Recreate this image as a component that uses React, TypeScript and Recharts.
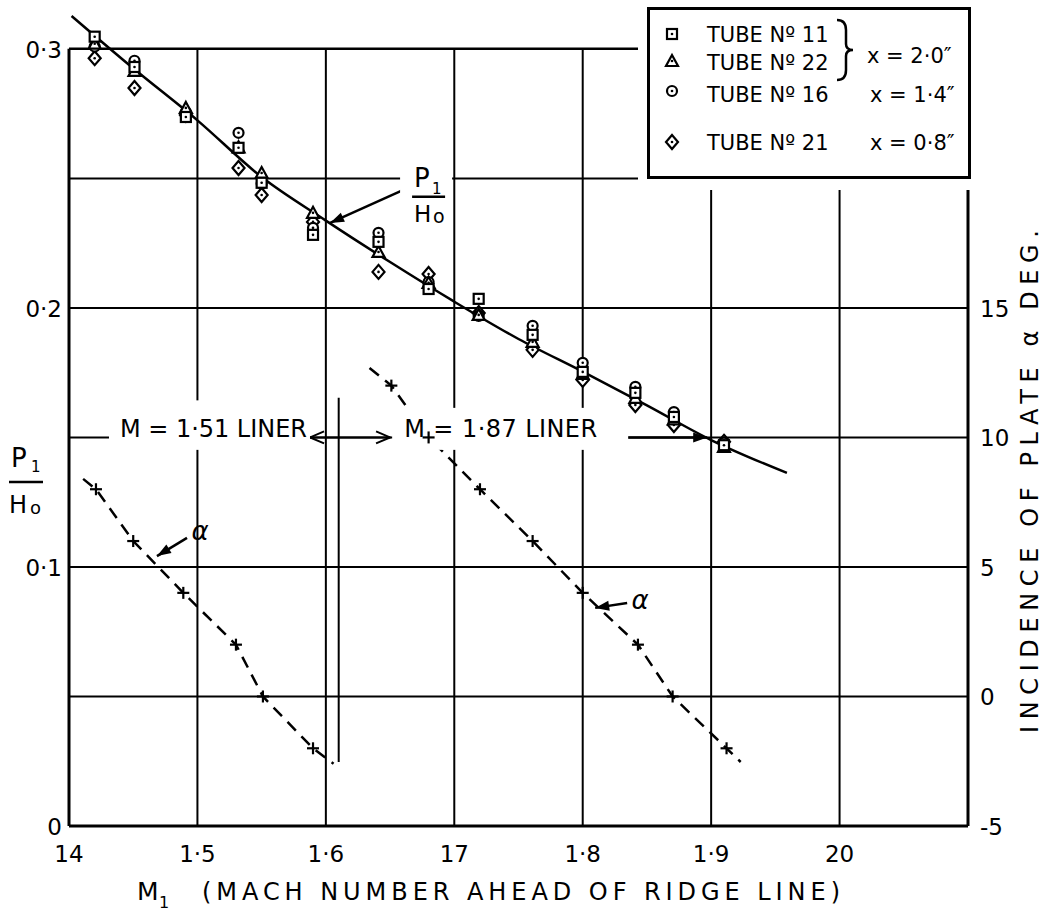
import React from 'react';
import { ComposedChart, XAxis, YAxis, Line, Scatter, ReferenceLine, ReferenceDot, Legend } from 'recharts';

// Mach number of each group of readings
const clusterMach = [1.42, 1.451, 1.491, 1.532, 1.55, 1.59, 1.641, 1.68, 1.719, 1.761, 1.8, 1.841, 1.871, 1.91];
// P1/H0 per tube
const tube11 = [0.3047, 0.293, 0.2737, 0.2618, 0.2483, 0.2282, 0.2255, 0.2073, 0.2035, 0.1896, 0.1753, 0.1672, 0.1579, 0.147];
const tube22 = [0.302, 0.2915, 0.2772, 0.262, 0.2521, 0.2367, 0.2216, 0.2097, 0.1973, 0.1869, 0.1745, 0.1653, 0.157, 0.1463];
const tube16 = [0.3009, 0.2954, 0.2755, 0.2676, 0.248, 0.2309, 0.229, 0.21, 0.1969, 0.1931, 0.1788, 0.1695, 0.1598, 0.148];
const tube21 = [0.2964, 0.2849, 0.2745, 0.254, 0.2436, 0.2332, 0.2139, 0.2131, 0.198, 0.1838, 0.1722, 0.1625, 0.1548, 0.1483];

// faired P1/H0 curve
const curveMach = [1.402, 1.45, 1.5, 1.55, 1.6, 1.65, 1.7, 1.75, 1.8, 1.85, 1.9, 1.959];
const curveRatio = [0.3127, 0.2925, 0.2724, 0.2505, 0.2337, 0.2177, 0.2024, 0.188, 0.1754, 0.1624, 0.149, 0.1363];

// incidence of plate (deg), two liners
const liner151Mach = [1.421, 1.45, 1.489, 1.53, 1.551, 1.59];
const liner151Alpha = [8, 6, 4, 2, 0, -2];
const liner151EndMach = [1.411, 1.606];
const liner151EndAlpha = [8.4, -2.6];
const liner187Mach = [1.651, 1.68, 1.72, 1.761, 1.8, 1.843, 1.87, 1.912];
const liner187Alpha = [12, 10, 8, 6, 4, 2, 0, -2];
const liner187EndMach = [1.634, 1.923];
const liner187EndAlpha = [12.68, -2.53];

const xTicks = [1.4, 1.5, 1.6, 1.7, 1.8, 1.9, 2.0];
const xTickLabels = ['14', '1·5', '1·6', '17', '1·8', '1·9', '20'];
const pTicks = [0, 0.1, 0.2, 0.3];
const pTickLabels = ['0', '0·1', '0·2', '0·3'];
const aTicks = [-5, 0, 5, 10, 15];
const aTickLabels = ['-5', '0', '5', '10', '15'];
const xGrid = [1.5, 1.6, 1.7, 1.8, 1.9, 2.0];
const pGrid = [0.05, 0.1, 0.15, 0.2, 0.25];

const tubes = [
  { label: 'TUBE Nº 11', kind: 'square', values: tube11 },
  { label: 'TUBE Nº 22', kind: 'triangle', values: tube22 },
  { label: 'TUBE Nº 16', kind: 'circle', values: tube16 },
  { label: 'TUBE Nº 21', kind: 'diamond', values: tube21 },
];

const FONT = '"DejaVu Sans", sans-serif';

const toPoints = (xs: number[], ys: number[], key: string) => xs.map((m, i) => ({ m, [key]: ys[i] }));

const curveData = toPoints(curveMach, curveRatio, 'p');
const cross151 = toPoints(liner151Mach, liner151Alpha, 'a');
const cross187 = toPoints(liner187Mach, liner187Alpha, 'a');
const dash151 = [{ m: liner151EndMach[0], a: liner151EndAlpha[0] }, ...cross151, { m: liner151EndMach[1], a: liner151EndAlpha[1] }];
const dash187 = [{ m: liner187EndMach[0], a: liner187EndAlpha[0] }, ...cross187, { m: liner187EndMach[1], a: liner187EndAlpha[1] }];

function Marker({ kind, cx, cy }: { kind: string; cx: number; cy: number }) {
  const st = { fill: '#fff', stroke: '#000', strokeWidth: 2.2 };
  let body = null;
  if (kind === 'square') body = <rect x={cx - 5} y={cy - 5} width={10} height={10} {...st} />;
  if (kind === 'triangle') body = <polygon points={`${cx},${cy - 6} ${cx + 6},${cy + 5} ${cx - 6},${cy + 5}`} {...st} />;
  if (kind === 'circle') body = <circle cx={cx} cy={cy} r={5} {...st} />;
  if (kind === 'diamond') body = <polygon points={`${cx},${cy - 7} ${cx + 6},${cy} ${cx},${cy + 7} ${cx - 6},${cy}`} {...st} />;
  return (
    <g>
      {body}
      <circle cx={cx} cy={cy} r={1.3} fill="#000" />
    </g>
  );
}

const Cross = (p: any) => (
  <g stroke="#000" strokeWidth={2.2}>
    <line x1={p.cx - 6} y1={p.cy} x2={p.cx + 6} y2={p.cy} />
    <line x1={p.cx} y1={p.cy - 6} x2={p.cx} y2={p.cy + 6} />
  </g>
);

function head(x1: number, y1: number, x2: number, y2: number, len = 14, half = 5) {
  const a = Math.atan2(y2 - y1, x2 - x1);
  const bx = x2 - len * Math.cos(a);
  const by = y2 - len * Math.sin(a);
  const nx = -Math.sin(a) * half;
  const ny = Math.cos(a) * half;
  return `${x2},${y2} ${bx + nx},${by + ny} ${bx - nx},${by - ny}`;
}

const Arrow = (p: any) => (
  <g>
    <line x1={p.x1} y1={p.y1} x2={p.x2} y2={p.y2} stroke="#000" strokeWidth={2.5} />
    <polygon points={head(p.x1, p.y1, p.x2, p.y2)} fill="#000" />
  </g>
);

const DoubleArrow = (p: any) => (
  <g fill="none" stroke="#000" strokeWidth={2}>
    <line x1={p.x1} y1={p.y1} x2={p.x2} y2={p.y2} />
    <polyline points={`${p.x1 + 14},${p.y1 - 6} ${p.x1},${p.y1} ${p.x1 + 14},${p.y1 + 6}`} />
    <polyline points={`${p.x2 - 14},${p.y2 - 6} ${p.x2},${p.y2} ${p.x2 - 14},${p.y2 + 6}`} />
  </g>
);

const boxLabel = (text: string, left: number, right: number, top: number, bottom: number, len: number) => (p: any) => (
  <g>
    <rect x={p.cx + left} y={p.cy + top} width={right - left} height={bottom - top} fill="#fff" />
    <text x={p.cx} y={p.cy + 8.5} textAnchor="middle" fontSize={24} fontFamily={FONT} fill="#000" textLength={len} lengthAdjust="spacing">
      {text}
    </text>
  </g>
);

const RatioLabel = (p: any) => (
  <g fontFamily={FONT} fill="#000">
    <rect x={p.cx - 28} y={p.cy - 39} width={52} height={72} fill="#fff" />
    <text x={p.cx - 14} y={p.cy - 10} fontSize={26}>P</text>
    <text x={p.cx + 4} y={p.cy - 3} fontSize={15}>1</text>
    <line x1={p.cx - 16} y1={p.cy} x2={p.cx + 17} y2={p.cy} stroke="#000" strokeWidth={2.5} />
    <text x={p.cx - 14} y={p.cy + 25} fontSize={23}>H</text>
    <text x={p.cx + 5} y={p.cy + 26} fontSize={19}>o</text>
  </g>
);

const AlphaText = (p: any) => (
  <text x={p.cx} y={p.cy + 7} textAnchor="middle" fontSize={26} fontFamily={FONT} fontStyle="italic" fill="#000">
    α
  </text>
);

const XTick = (p: any) => {
  const i = xTicks.findIndex((t) => Math.abs(t - p.payload.value) < 1e-9);
  return (
    <text x={p.x} y={p.y + 36} textAnchor="middle" fontSize={23} fontFamily={FONT} fill="#000">
      {xTickLabels[i]}
    </text>
  );
};

const PTick = (p: any) => {
  const i = pTicks.findIndex((t) => Math.abs(t - p.payload.value) < 1e-9);
  return (
    <text x={p.x - 7} y={p.y + 9} textAnchor="end" fontSize={23} fontFamily={FONT} fill="#000">
      {pTickLabels[i]}
    </text>
  );
};

const ATick = (p: any) => {
  const i = aTicks.findIndex((t) => Math.abs(t - p.payload.value) < 1e-9);
  return (
    <text x={p.x + 12} y={p.y + 9} textAnchor="start" fontSize={23} fontFamily={FONT} fill="#000">
      {aTickLabels[i]}
    </text>
  );
};

const XTitle = () => (
  <g fontFamily={FONT} fill="#000">
    <text x={137} y={900} fontSize={25}>M</text>
    <text x={159} y={908} fontSize={16}>1</text>
    <text x={202} y={900} fontSize={24} textLength={638} lengthAdjust="spacing">
      (MACH NUMBER AHEAD OF RIDGE LINE)
    </text>
  </g>
);

const PTitle = () => (
  <g fontFamily={FONT} fill="#000">
    <text x={11} y={467} fontSize={26}>P</text>
    <text x={31} y={472} fontSize={15}>1</text>
    <line x1={9} y1={482} x2={43} y2={482} stroke="#000" strokeWidth={2.5} />
    <text x={9} y={513} fontSize={24}>H</text>
    <text x={30} y={514} fontSize={18}>o</text>
  </g>
);

const ATitle = () => (
  <text
    transform="translate(1038, 481.5) rotate(-90)"
    x={0}
    y={0}
    textAnchor="middle"
    fontSize={24}
    fontFamily={FONT}
    fill="#000"
    textLength={503}
    lengthAdjust="spacing"
  >
    INCIDENCE OF PLATE α DEG.
  </text>
);

const legendRows = [42, 70, 102, 150];
const markerRows = [34, 61, 91, 142];

const TubeLegend = () => (
  <svg width={342} height={190} style={{ display: 'block' }}>
    <rect x={0} y={0} width={342} height={190} fill="#fff" />
    <rect x={10.5} y={8.5} width={321} height={169} fill="#fff" stroke="#000" strokeWidth={3} />
    {tubes.map((t, i) => (
      <g key={t.label}>
        <Marker kind={t.kind} cx={34} cy={markerRows[i]} />
        <text x={69} y={legendRows[i]} fontSize={21} fontFamily={FONT} fill="#000">
          {t.label}
        </text>
      </g>
    ))}
    <path d="M199 20 Q208 20 208 30 L208 44 Q208 50 215 50 Q208 50 208 56 L208 70 Q208 80 199 80" fill="none" stroke="#000" strokeWidth={2.5} />
    <g fontSize={21} fontFamily={FONT} fill="#000">
      <text x={229} y={63}>x = 2·0″</text>
      <text x={232} y={102}>x = 1·4″</text>
      <text x={232} y={150}>x = 0·8″</text>
    </g>
  </svg>
);

export default function App() {
  return (
    <div style={{ position: 'absolute', left: 0, top: 0, width: 1045, height: 912, background: '#fff', fontFamily: FONT }}>
      <ComposedChart width={1045} height={912} margin={{ top: 10, right: 0, bottom: 0, left: 0 }}>
        <XAxis
          type="number"
          dataKey="m"
          domain={[1.4, 2.1]}
          ticks={xTicks}
          interval={0}
          allowDataOverflow
          axisLine={false}
          tickLine={false}
          tickSize={0}
          tickMargin={0}
          height={86}
          tick={XTick}
          label={{ content: XTitle }}
        />
        <YAxis
          yAxisId="p"
          type="number"
          domain={[0, 0.315]}
          ticks={pTicks}
          interval={0}
          allowDataOverflow
          axisLine={false}
          tickLine={false}
          tickSize={0}
          tickMargin={0}
          width={69}
          tick={PTick}
          label={{ content: PTitle }}
        />
        <YAxis
          yAxisId="a"
          orientation="right"
          type="number"
          domain={[-5, 26.5]}
          ticks={aTicks}
          interval={0}
          allowDataOverflow
          axisLine={false}
          tickLine={false}
          tickSize={0}
          tickMargin={0}
          width={77}
          tick={ATick}
          label={{ content: ATitle }}
        />

        {xGrid.map((x) => (
          <ReferenceLine key={'gx' + x} yAxisId="p" segment={[{ x, y: 0 }, { x, y: 0.3 }]} stroke="#000" strokeWidth={2} />
        ))}
        {pGrid.map((y) => (
          <ReferenceLine key={'gy' + y} yAxisId="p" segment={[{ x: 1.4, y }, { x: 2.1, y }]} stroke="#000" strokeWidth={2} />
        ))}
        <ReferenceLine yAxisId="p" segment={[{ x: 1.4, y: 0 }, { x: 1.4, y: 0.3 }]} stroke="#000" strokeWidth={3} />
        <ReferenceLine yAxisId="p" segment={[{ x: 2.1, y: 0 }, { x: 2.1, y: 0.3 }]} stroke="#000" strokeWidth={3} />
        <ReferenceLine yAxisId="p" segment={[{ x: 1.4, y: 0 }, { x: 2.1, y: 0 }]} stroke="#000" strokeWidth={3} />
        <ReferenceLine yAxisId="p" segment={[{ x: 1.4, y: 0.3 }, { x: 2.1, y: 0.3 }]} stroke="#000" strokeWidth={2.5} />

        <ReferenceDot yAxisId="p" x={1.5125} y={0.1535} shape={boxLabel('M = 1·51 LINER', -104.5, 96.5, -28, 21.5, 187)} />
        <ReferenceDot yAxisId="p" x={1.7361} y={0.1535} shape={boxLabel('M = 1·87 LINER', -108.5, 127.5, -20.5, 21.5, 193)} />
        <ReferenceDot yAxisId="p" x={1.6796} y={0.2429} shape={RatioLabel} />

        <ReferenceLine yAxisId="p" segment={[{ x: 1.5877, y: 0.15 }, { x: 1.65, y: 0.15 }]} shape={DoubleArrow} />
        <ReferenceLine yAxisId="p" segment={[{ x: 1.8354, y: 0.15 }, { x: 1.8969, y: 0.15 }]} shape={Arrow} />
        <ReferenceLine yAxisId="p" segment={[{ x: 1.61, y: 0.0247 }, { x: 1.61, y: 0.1653 }]} stroke="#000" strokeWidth={2} />
        <ReferenceLine yAxisId="p" segment={[{ x: 1.6656, y: 0.2467 }, { x: 1.6033, y: 0.2328 }]} shape={Arrow} />

        <ReferenceLine yAxisId="a" segment={[{ x: 1.4919, y: 6.12 }, { x: 1.4685, y: 5.42 }]} shape={Arrow} />
        <ReferenceDot yAxisId="a" x={1.502} y={6.31} shape={AlphaText} />
        <ReferenceLine yAxisId="a" segment={[{ x: 1.8346, y: 3.61 }, { x: 1.8097, y: 3.42 }]} shape={Arrow} />
        <ReferenceDot yAxisId="a" x={1.8447} y={3.65} shape={AlphaText} />

        <Line yAxisId="p" data={curveData} dataKey="p" type="monotone" stroke="#000" strokeWidth={2.5} dot={false} isAnimationActive={false} />
        <Line yAxisId="a" data={dash151} dataKey="a" type="linear" stroke="#000" strokeWidth={2.5} strokeDasharray="12 8" dot={false} isAnimationActive={false} />
        <Line yAxisId="a" data={dash187} dataKey="a" type="linear" stroke="#000" strokeWidth={2.5} strokeDasharray="12 8" dot={false} isAnimationActive={false} />
        <Scatter yAxisId="a" data={cross151} dataKey="a" shape={Cross} isAnimationActive={false} />
        <Scatter yAxisId="a" data={cross187} dataKey="a" shape={Cross} isAnimationActive={false} />

        {[...tubes].reverse().map((t) => (
          <Scatter
            key={t.label}
            name={t.label}
            yAxisId="p"
            data={toPoints(clusterMach, t.values, 'p')}
            dataKey="p"
            shape={(p: any) => <Marker kind={t.kind} cx={p.cx} cy={p.cy} />}
            isAnimationActive={false}
          />
        ))}

        <Legend
          layout="vertical"
          align="center"
          verticalAlign="middle"
          content={TubeLegend}
          wrapperStyle={{ position: 'absolute', left: 638, top: 0, width: 342, height: 190, margin: 0, padding: 0 }}
        />
      </ComposedChart>
    </div>
  );
}
